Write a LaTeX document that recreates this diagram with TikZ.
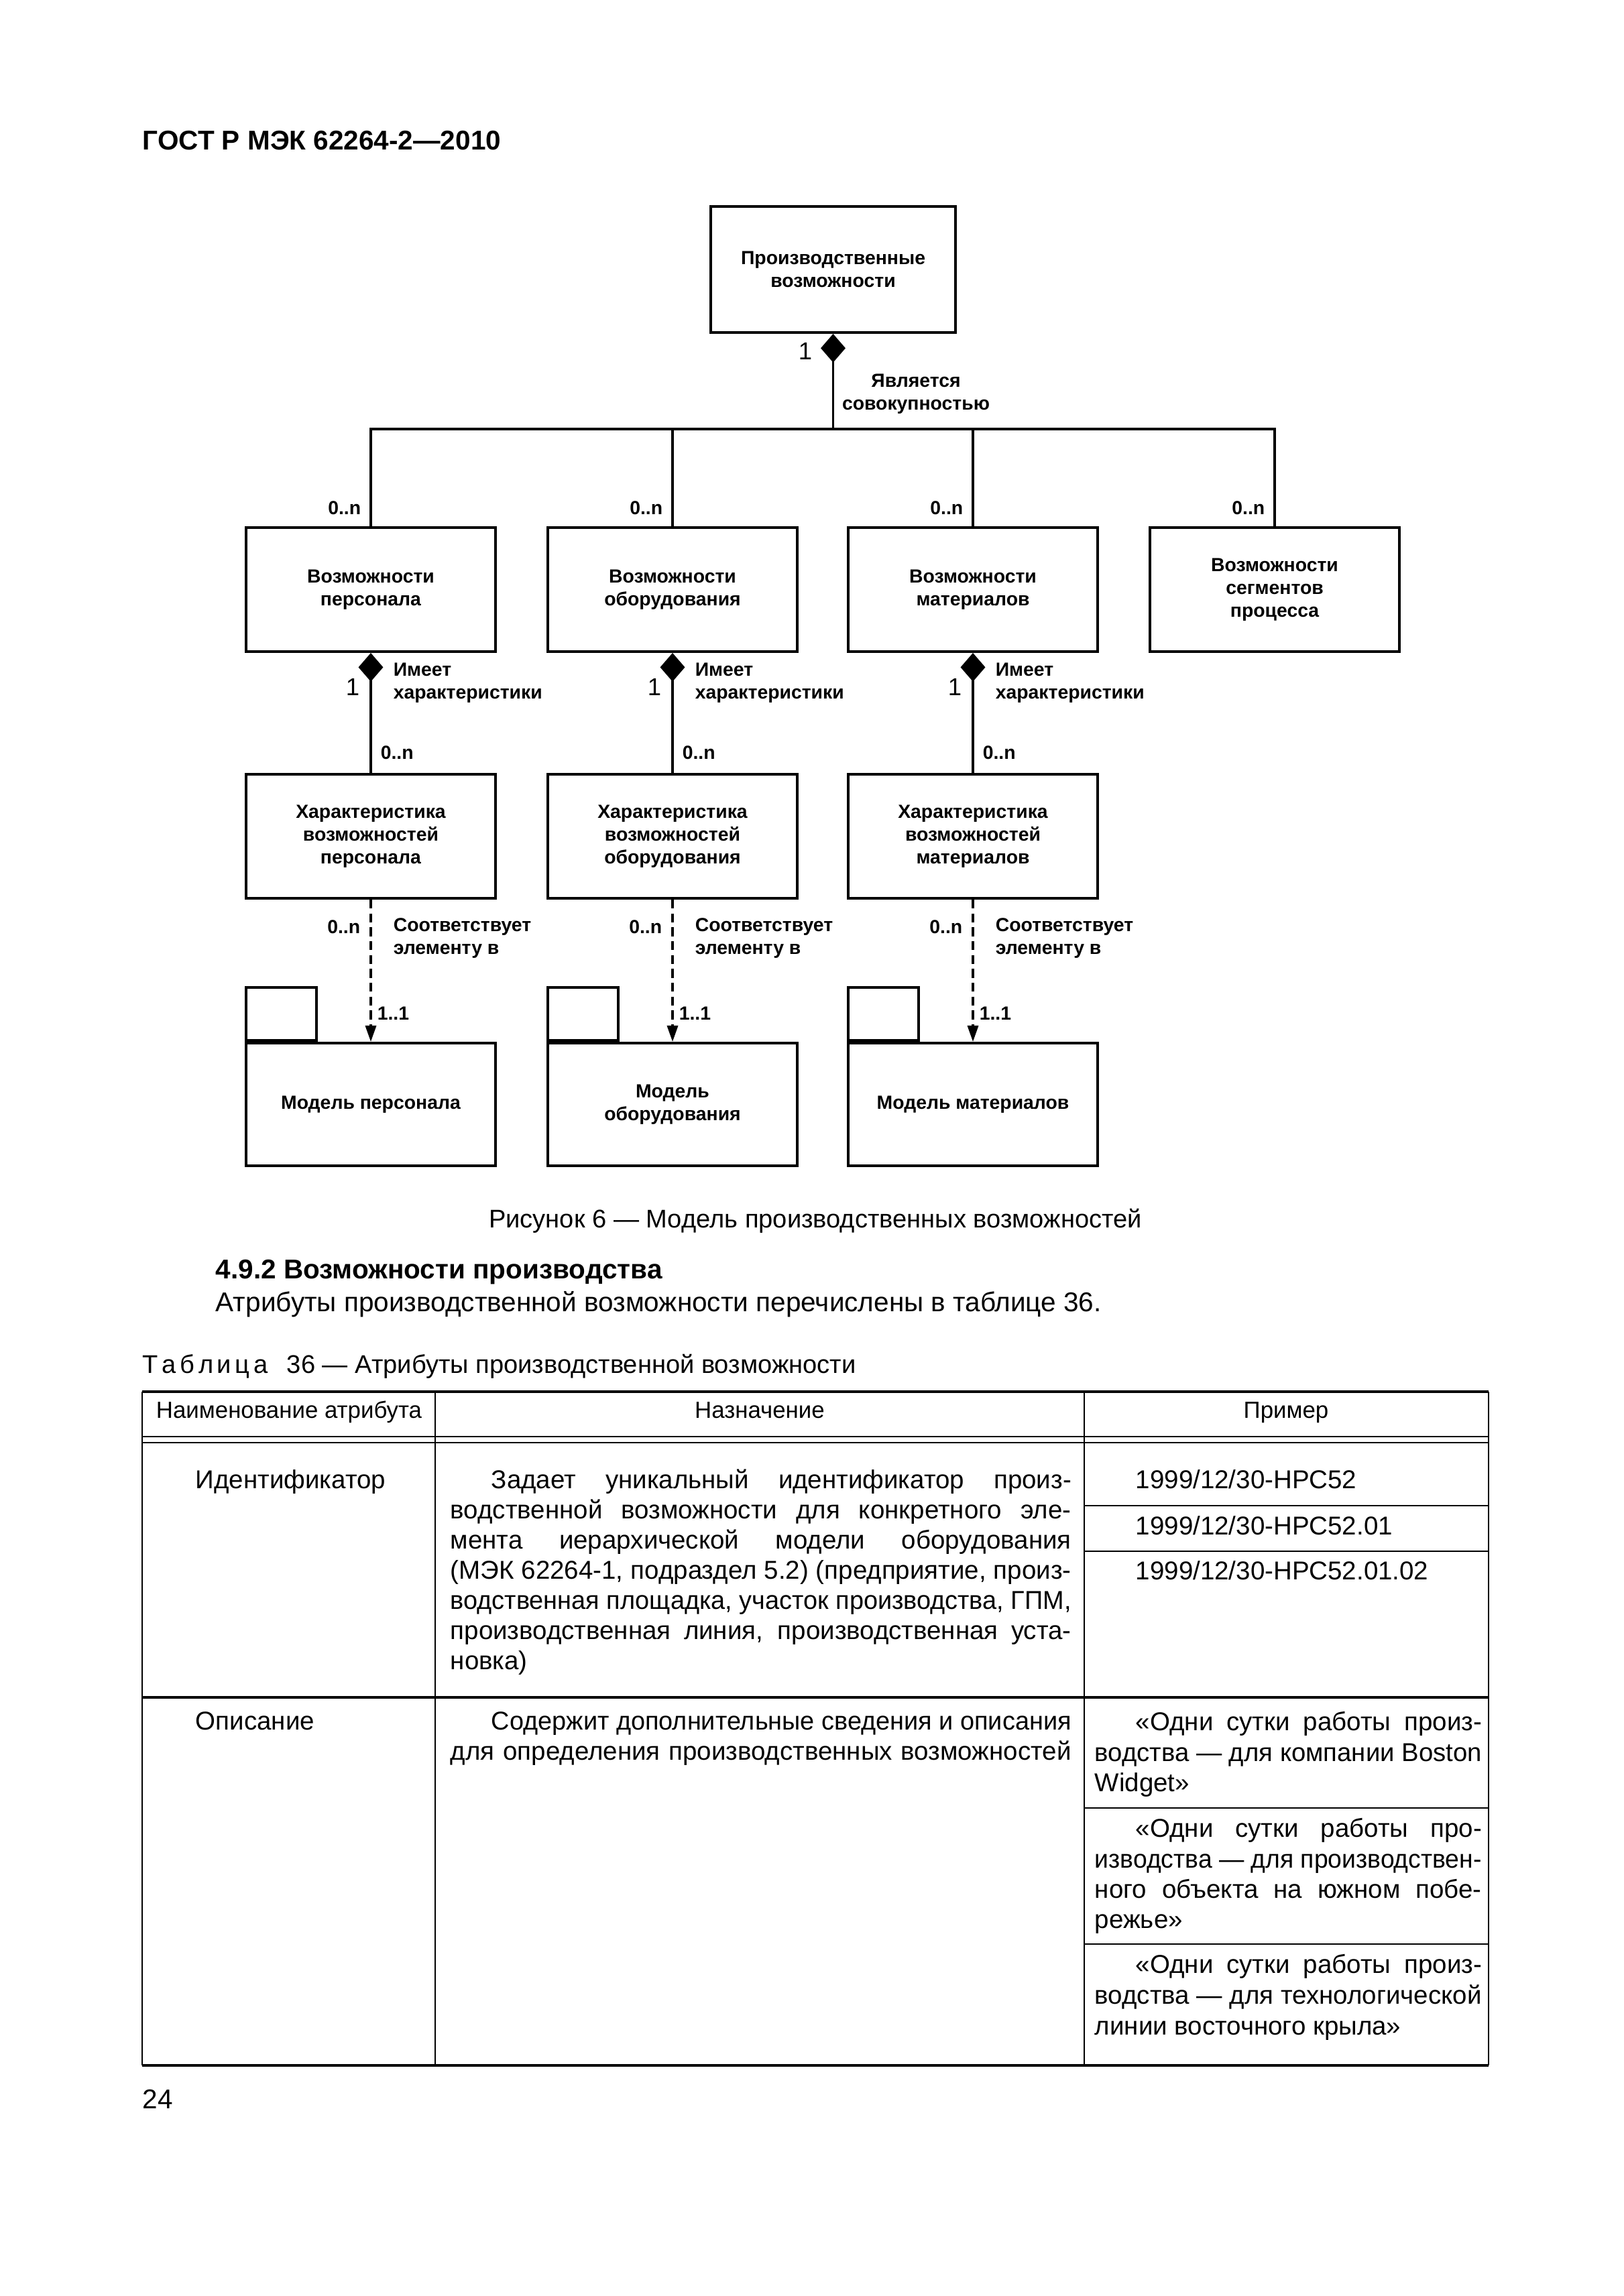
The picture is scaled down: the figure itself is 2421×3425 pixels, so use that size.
\documentclass[tikz,border=0pt]{standalone}
\usepackage{fontspec}
\setmainfont{Liberation Sans}
\usepackage{graphicx}
\usetikzlibrary{arrows.meta}
\newlength\jlw
\newcommand\jline[2]{\settowidth\jlw{#2}\ifdim\jlw>#1\relax\resizebox{#1}{\height}{#2}\else\makebox[#1][s]{#2}\fi}
\tikzset{
 box/.style={draw, line width=1pt, inner sep=0pt, align=center, font=\fontsize{7}{8.4}\selectfont\bfseries},
 dlab/.style={inner sep=0pt, font=\fontsize{7}{8.4}\selectfont\bfseries},
 onelab/.style={inner sep=0pt, font=\fontsize{9}{10}\selectfont},
 conn/.style={line width=0.8pt},
 comp/.style={conn, {Diamond[length=3.7mm,width=3.2mm]}-},
 dep/.style={conn, dash pattern=on 3.3pt off 1.8pt, -{Triangle[length=2.1mm,width=1.4mm]}},
 txt/.style={inner sep=0pt, font=\fontsize{10}{11.1}\selectfont, text height=7.2pt, text depth=2.1pt},
 captxt/.style={inner sep=0pt, font=\fontsize{9.4}{11}\selectfont, text height=6.8pt, text depth=2pt},
 tl/.style={inner sep=0pt, anchor=west, font=\fontsize{9.5}{11}\selectfont, text height=6.9pt, text depth=2pt},
 hdr/.style={inner sep=0pt, font=\fontsize{8.6}{10}\selectfont, text height=6.2pt, text depth=1.8pt},
 hline/.style={line width=1pt},
 vline/.style={line width=0.7pt},
 thinline/.style={line width=0.5pt}
}
\begin{document}
\begin{tikzpicture}[x=0.086741mm,y=-0.086741mm]
\fill[white] (0,0) rectangle (2421,3425);
\useasboundingbox (0,0) rectangle (2421,3425);

% header
\node[inner sep=0pt, anchor=west, font=\fontsize{10}{12}\selectfont\bfseries] (hdr) at (212,210) {ГОСТ Р МЭК 62264-2—2010};

% ---------- diagram ----------
\node[box, minimum width=31.66mm, minimum height=16.31mm] (top) at (1242.5,402) {Производственные\\возможности};

\node[box, minimum width=32.27mm, minimum height=16.05mm] (p1) at (553,879.5) {Возможности\\персонала};
\node[box, minimum width=32.27mm, minimum height=16.05mm] (p2) at (1003,879.5) {Возможности\\оборудования};
\node[box, minimum width=32.27mm, minimum height=16.05mm] (p3) at (1451,879.5) {Возможности\\материалов};
\node[box, minimum width=32.27mm, minimum height=16.05mm] (p4) at (1901,879.5) {Возможности\\сегментов\\процесса};

\node[box, minimum width=32.27mm, minimum height=16.05mm] (c1) at (553,1247.5) {Характеристика\\возможностей\\персонала};
\node[box, minimum width=32.27mm, minimum height=16.05mm] (c2) at (1003,1247.5) {Характеристика\\возможностей\\оборудования};
\node[box, minimum width=32.27mm, minimum height=16.05mm] (c3) at (1451,1247.5) {Характеристика\\возможностей\\материалов};

\node[box, minimum width=32.27mm, minimum height=15.87mm] (m1) at (553,1647.5) {Модель персонала};
\node[box, minimum width=32.27mm, minimum height=15.87mm] (m2) at (1003,1647.5) {Модель\\оборудования};
\node[box, minimum width=32.27mm, minimum height=15.87mm] (m3) at (1451,1647.5) {Модель материалов};
\node[box, minimum width=9.11mm, minimum height=6.85mm, anchor=south west] (t1) at (m1.north west) {};
\node[box, minimum width=9.11mm, minimum height=6.85mm, anchor=south west] (t2) at (m2.north west) {};
\node[box, minimum width=9.11mm, minimum height=6.85mm, anchor=south west] (t3) at (m3.north west) {};

% aggregation tree
\coordinate (j) at (1242.5,640);
\draw[comp] (top.south) -- (top.south |- j);
\draw[conn] (p1.north) -- (p1.north |- j) -- (p4.north |- j) -- (p4.north);
\draw[conn] (p2.north) -- (p2.north |- j);
\draw[conn] (p3.north) -- (p3.north |- j);
\node[onelab] (one0) at (1201,524) {1};
\node[dlab, align=center] (agg) at (1366,588) {Является\\совокупностью};

\foreach \i/\x in {1/553,2/1003,3/1451,4/1901}{
  \node[dlab, anchor=east] (n\i) at (\x-14,758) {0..n};
}

% has characteristics
\foreach \i/\x in {1/553,2/1003,3/1451}{
  \draw[comp] (p\i.south) -- (c\i.north);
  \draw[dep] (c\i.south) -- (m\i.north);
  \node[onelab] (o\i) at (\x-27,1025) {1};
  \node[dlab, anchor=west, align=left] (h\i) at (\x+33,1019) {Имеет\\характеристики};
  \node[dlab, anchor=west] (k\i) at (\x+14,1123) {0..n};
  \node[dlab, anchor=east] (r\i) at (\x-15,1383) {0..n};
  \node[dlab, anchor=west, align=left] (s\i) at (\x+33,1400) {Соответствует\\элементу в};
  \node[dlab, anchor=west] (e\i) at (\x+9,1512) {1..1};
}

% caption and text
\node[captxt] (capn) at (1216,1822) {Рисунок 6 — Модель производственных возможностей};
\node[txt, anchor=west, font=\fontsize{10}{11.1}\selectfont\bfseries] (h492) at (321,1897) {4.9.2 Возможности производства};
\node[txt, anchor=west] (body) at (321,1946) {Атрибуты производственной возможности перечислены в таблице 36.};
\node[captxt, anchor=west] (ttl) at (212,2039) {Т\hspace{1.4pt}а\hspace{1.4pt}б\hspace{1.4pt}л\hspace{1.4pt}и\hspace{1.4pt}ц\hspace{1.4pt}а\hspace{7pt}36 — Атрибуты производственной возможности};

% ---------- table ----------
\draw[hline] (212,2076) -- (2220,2076);
\draw[thinline] (212,2143) -- (2220,2143);
\draw[thinline] (212,2152) -- (2220,2152);
\draw[hline] (212,2532) -- (2220,2532);
\draw[hline] (212,3081) -- (2220,3081);
\draw[vline] (1617,2246) -- (2220,2246);
\draw[vline] (1617,2314) -- (2220,2314);
\draw[vline] (1617,2697) -- (2220,2697);
\draw[vline] (1617,2900) -- (2220,2900);
\foreach \x in {212,649,1617,2220}{\draw[vline] (\x,2076) -- (\x,3081);}

\node[hdr] (th1) at (431,2107) {Наименование атрибута};
\node[hdr] (th2) at (1133,2107) {Назначение};
\node[hdr] (th3) at (1918,2107) {Пример};

\node[tl] (a1) at (291,2211) {Идентификатор};
\node[tl] (d1) at (732,2211) {\jline{213.5pt}{Задает уникальный идентификатор произ-}};
\node[tl] (d2) at (671,2256) {\jline{228.5pt}{водственной возможности для конкретного эле-}};
\node[tl] (d3) at (671,2301) {\jline{228.5pt}{мента иерархической модели оборудования}};
\node[tl] (d4) at (671,2346) {\jline{228.5pt}{(МЭК 62264-1, подраздел 5.2) (предприятие, произ-}};
\node[tl] (d5) at (671,2391) {\jline{228.5pt}{водственная площадка, участок производства, ГПМ,}};
\node[tl] (d6) at (671,2436) {\jline{228.5pt}{производственная линия, производственная уста-}};
\node[tl] (d7) at (671,2481) {новка)};
\node[tl] (x1) at (1693,2211) {1999/12/30-HPC52};
\node[tl] (x2) at (1693,2280) {1999/12/30-HPC52.01};
\node[tl] (x3) at (1693,2347) {1999/12/30-HPC52.01.02};

\node[tl] (a2) at (291,2571) {Описание};
\node[tl] (f1) at (732,2571) {\jline{213.5pt}{Содержит дополнительные сведения и описания}};
\node[tl] (f2) at (671,2616) {\jline{228.5pt}{для определения производственных возможностей}};

\node[tl] (g1) at (1693,2572) {\jline{127.4pt}{«Одни сутки работы произ-}};
\node[tl] (g2) at (1632,2618) {\jline{142.4pt}{водства — для компании Boston}};
\node[tl] (g3) at (1632,2663) {Widget»};
\node[tl] (g4) at (1693,2731) {\jline{127.4pt}{«Одни сутки работы про-}};
\node[tl] (g5) at (1632,2777) {\jline{142.4pt}{изводства — для производствен-}};
\node[tl] (g6) at (1632,2822) {\jline{142.4pt}{ного объекта на южном побе-}};
\node[tl] (g7) at (1632,2867) {режье»};
\node[tl] (g8) at (1693,2934) {\jline{127.4pt}{«Одни сутки работы произ-}};
\node[tl] (g9) at (1632,2980) {\jline{142.4pt}{водства — для технологической}};
\node[tl] (g10) at (1632,3026) {линии восточного крыла»};

\node[txt, anchor=west] (pg) at (212,3135) {24};
\end{tikzpicture}
\end{document}
